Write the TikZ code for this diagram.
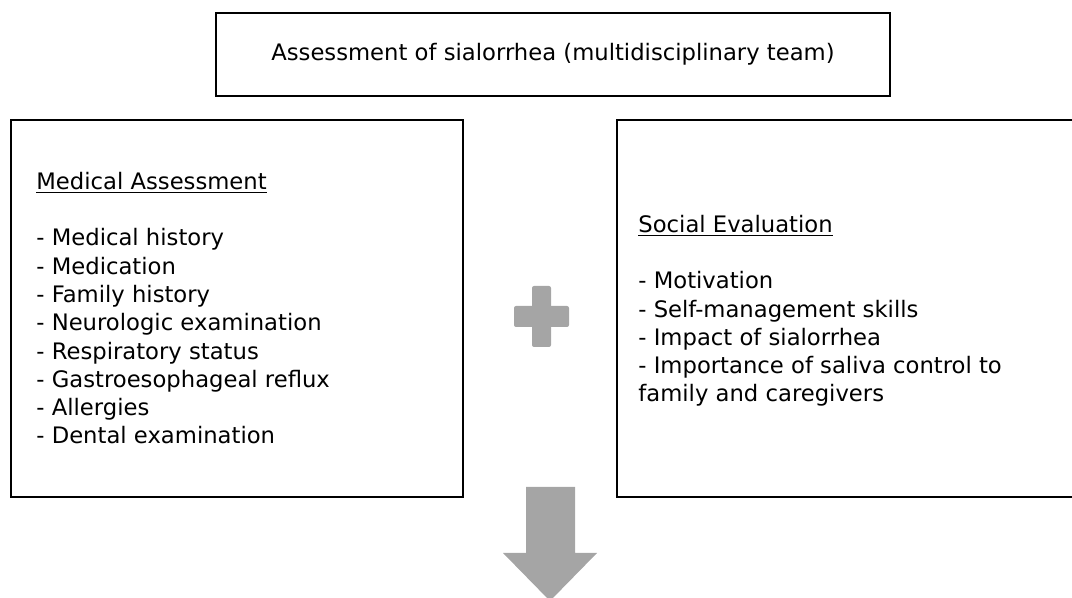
\documentclass[tikz,border=0pt]{standalone}
\usepackage{fontspec}
\setmainfont{DejaVu Sans}
\usetikzlibrary{positioning}
\definecolor{signgray}{HTML}{A5A5A5}
\tikzset{framebox/.style={draw, line width=0.9pt, inner sep=0pt}}
\tikzset{listtext/.style={align=left, inner sep=0pt, font=\fontsize{11.35}{14.15}\selectfont}}

\begin{document}
\begin{tikzpicture}[x=0.5pt,y=-0.5pt]
    \useasboundingbox (0,0) rectangle (1072,598);
    % top box
    \node [framebox, minimum width=337pt, minimum height=41.5pt, font=\fontsize{11.35}{14.15}\selectfont] (team) at (553,54.5) {Assessment of sialorrhea (multidisciplinary team)};
    % the two assessment boxes
    \node [framebox, minimum width=226pt, minimum height=188.5pt] (medical) at (237,308.5) {};
    \node [framebox, minimum width=229.5pt, minimum height=188.5pt] (social) at (846.5,308.5) {};
    % lists (anchored at the baseline of their last line)
    \node [listtext, anchor=base west] (medicaltext) at (36,444) {\underline{Medical Assessment}\\[14.15pt]
        - Medical history\\
        - Medication\\
        - Family history\\
        - Neurologic examination\\
        - Respiratory status\\
        - Gastroesophageal reflux\\
        - Allergies\\
        - Dental examination};
    \node [listtext, anchor=base west] (socialtext) at (638,402) {\underline{Social Evaluation}\\[14.15pt]
        - Motivation\\
        - Self-management skills\\
        - Impact of sialorrhea\\
        - Importance of saliva control to\\
        family and caregivers};
    % plus sign
    \fill [signgray, rounded corners=1] (532,286) rectangle (551,347);
    \fill [signgray, rounded corners=1] (514,306) rectangle (569,327);
    % down arrow
    \fill [signgray] (526,487) -- (575,487) -- (575,553) -- (597,553) -- (550,601) -- (503,553) -- (526,553) -- cycle;
\end{tikzpicture}
\end{document}
